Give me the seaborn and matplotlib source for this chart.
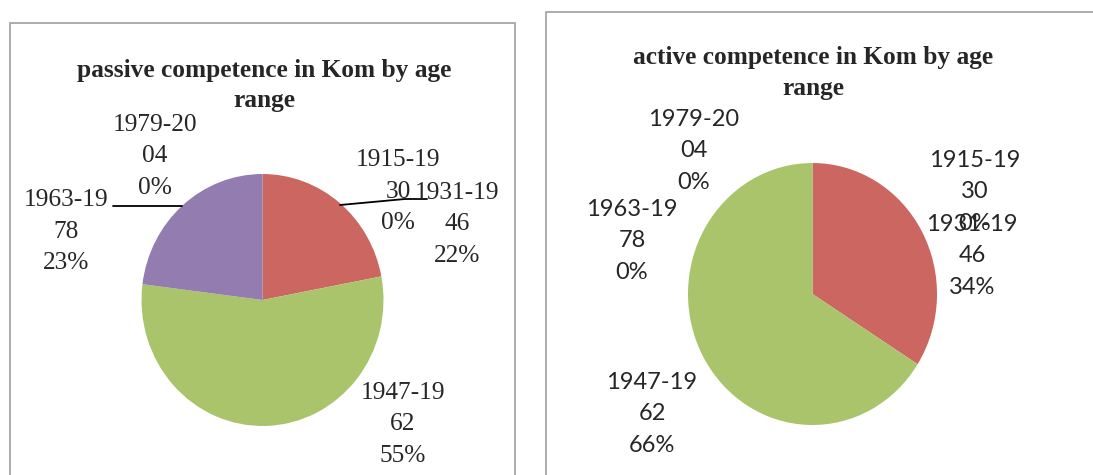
"""
Two pie charts: passive vs active competence in Kom by age range.
"""

import matplotlib.pyplot as plt
import seaborn as sns
from matplotlib.patches import Rectangle
from matplotlib.lines import Line2D

# Data
age_ranges = ['1915-1930', '1931-1946', '1947-1962', '1963-1978', '1979-2004']
passive_pct = [0, 22, 55, 23, 0]
active_pct = [0, 34, 66, 0, 0]
slice_colors = ['#4F81BD', '#CC6660', '#AAC46C', '#937CB0', '#4BACC6']

sns.set_theme(style='white')
plt.rcParams['font.family'] = ['Liberation Serif', 'DejaVu Serif']

W, H = 1093, 475
fig = plt.figure(figsize=(W / 100, H / 100), dpi=100)
fig.patch.set_facecolor('white')


def fx(x):
    return x / W


def fy(y):
    return 1 - y / H


def pie_axes(cx, cy, w, h):
    return fig.add_axes([(cx - w / 2) / W, (H - cy - h / 2) / H, w / W, h / H])


def finish_pie(ax):
    # the source chart is slightly squashed horizontally, so no equal aspect
    ax.set_xlim(-1, 1)
    ax.set_ylim(-1, 1)
    ax.set_aspect('auto')
    ax.axis('off')


def draw_label(name, pct, x, y0, step, **kw):
    lines = [name[:7], name[7:], f'{pct}%']
    for i, line in enumerate(lines):
        fig.text(fx(x), fy(y0 + i * step), line, ha='center', va='baseline', **kw)


# panel frames
fig.patches.append(Rectangle((fx(9.5), fy(490)), (515 - 9.5) / W, (490 - 23) / H,
                             transform=fig.transFigure, fill=False,
                             edgecolor='#A6A6A6', linewidth=1.3))
fig.patches.append(Rectangle((fx(546), fy(490)), (1110 - 546) / W, (490 - 12) / H,
                             transform=fig.transFigure, fill=False,
                             edgecolor='#A6A6A6', linewidth=1.3))

# LEFT: passive competence
ax1 = pie_axes(262.5, 300, 242, 252)
ax1.pie(passive_pct, colors=slice_colors, startangle=90, counterclock=False,
        radius=1, wedgeprops={'linewidth': 0})
finish_pie(ax1)

for line, yb in zip(['passive competence in Kom by age', 'range'], [77, 107]):
    fig.text(fx(264), fy(yb), line, ha='center', va='baseline',
             fontsize=18.3, fontweight='bold')

left_pos = {'1915-1930': (398, 166), '1931-1946': (457, 199), '1947-1962': (403, 399),
            '1963-1978': (66, 206), '1979-2004': (155, 131)}
for name, pct in zip(age_ranges, passive_pct):
    x, y0 = left_pos[name]
    draw_label(name, pct, x, y0, 31.5, fontsize=18.3)

# leader lines
fig.lines.append(Line2D([fx(340), fx(405), fx(427)], [fy(205), fy(199), fy(199)],
                        transform=fig.transFigure, color='black', linewidth=1.3))
fig.lines.append(Line2D([fx(113), fx(182)], [fy(206), fy(206)],
                        transform=fig.transFigure, color='black', linewidth=1.3))

# RIGHT: active competence
ax2 = pie_axes(812.5, 294, 249, 262)
ax2.pie(active_pct, colors=slice_colors, startangle=90, counterclock=False,
        radius=1, wedgeprops={'linewidth': 0})
finish_pie(ax2)

for line, yb in zip(['active competence in Kom by age', 'range'], [64, 95]):
    fig.text(fx(813), fy(yb), line, ha='center', va='baseline',
             fontsize=18.3, fontweight='bold')

right_pos = {'1915-1930': (975, 167), '1931-1946': (972, 231), '1947-1962': (652, 389),
             '1963-1978': (632, 216), '1979-2004': (694, 126)}
for name, pct in zip(age_ranges, active_pct):
    x, y0 = right_pos[name]
    draw_label(name, pct, x, y0, 31.5, fontsize=17, family=['Lato', 'DejaVu Sans'])

plt.savefig('out.png', dpi=100)
plt.close()
